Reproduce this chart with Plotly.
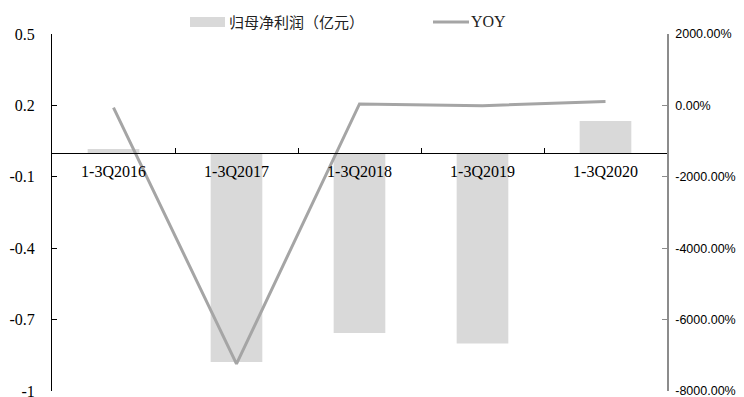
import plotly.graph_objects as go

categories = ["1-3Q2016", "1-3Q2017", "1-3Q2018", "1-3Q2019", "1-3Q2020"]
profit = [0.017, -0.878, -0.756, -0.80, 0.134]          # 归母净利润（亿元）
yoy = [-60, -7240, 40, -10, 110]                         # YOY in %
left_ticks = [0.5, 0.2, -0.1, -0.4, -0.7, -1]
left_ticktext = ["0.5", "0.2", "-0.1", "-0.4", "-0.7", "-1"]
right_ticks = [2000, 0, -2000, -4000, -6000, -8000]
right_ticktext = ["2000.00%", "0.00%", "-2000.00%", "-4000.00%", "-6000.00%", "-8000.00%"]
bar_name = "归母净利润（亿元）"
line_name = "YOY"

serif = "Liberation Serif, Times New Roman, serif"
sans = "Liberation Sans, Arial, sans-serif"
cjk = "Noto Sans CJK SC, sans-serif"

# page body has an 8px default margin; compensate
OFF = 8
W, H = 744 - OFF, 397 - OFF
ML, MT = 52 - OFF, 34 - OFF
PW, PH = 615, 357
MR, MB = W - ML - PW, H - MT - PH

BAR_COLOR = "#d9d9d9"
LINE_COLOR = "#a5a5a5"

fig = go.Figure()
fig.add_trace(go.Bar(
    x=categories, y=profit, name=bar_name,
    marker=dict(color=BAR_COLOR, line=dict(width=0)), width=0.42,
    yaxis="y", showlegend=False,
))
fig.add_trace(go.Scatter(
    x=categories, y=yoy, name=line_name, mode="lines",
    line=dict(color=LINE_COLOR, width=3), yaxis="y2", showlegend=False,
))

ymin, ymax = -1, 0.5
zero_frac = (0 - ymin) / (ymax - ymin)

def px_to_paper_x(px):
    return (px - OFF - ML) / PW

def px_to_paper_y(py):
    return (MT + PH - (py - OFF)) / PH

leg_y = px_to_paper_y(22)
shapes = [
    dict(type="rect", xref="paper", yref="paper",
         xsizemode="pixel", ysizemode="pixel",
         xanchor=px_to_paper_x(190), yanchor=leg_y,
         x0=0, x1=35, y0=-5, y1=5,
         fillcolor=BAR_COLOR, line=dict(width=0)),
    dict(type="line", xref="paper", yref="paper",
         xsizemode="pixel", ysizemode="pixel",
         xanchor=px_to_paper_x(433), yanchor=leg_y,
         x0=0, x1=36, y0=0, y1=0,
         line=dict(color=LINE_COLOR, width=3)),
]
annotations = [
    dict(text=bar_name, xref="paper", yref="paper", x=px_to_paper_x(227), y=leg_y,
         xanchor="left", yanchor="middle", showarrow=False,
         font=dict(family=cjk, size=15, color="#222")),
    dict(text=line_name, xref="paper", yref="paper", x=px_to_paper_x(469), y=leg_y,
         xanchor="left", yanchor="middle", showarrow=False,
         font=dict(family=serif, size=16, color="#222")),
]

fig.update_layout(
    width=W, height=H,
    margin=dict(l=ML, r=MR, t=MT, b=MB, autoexpand=False),
    plot_bgcolor="white", paper_bgcolor="white",
    showlegend=False,
    shapes=shapes, annotations=annotations,
    xaxis=dict(
        type="category", range=[-0.5, 4.5],
        anchor="free", position=zero_frac,
        showline=True, linecolor="black", linewidth=1,
        ticks="inside", ticklen=5, tickcolor="black", tickson="boundaries",
        showgrid=False, zeroline=False, ticklabelstandoff=4,
        tickfont=dict(family=serif, size=16, color="black"),
    ),
    yaxis=dict(
        range=[ymin, ymax], tickvals=left_ticks, ticktext=left_ticktext,
        showline=True, linecolor="black", linewidth=1,
        ticks="inside", ticklen=5, tickcolor="black",
        showgrid=False, zeroline=False, ticklabeloverflow="allow",
        ticklabelstandoff=13,
        tickfont=dict(family=serif, size=16, color="black"),
    ),
    yaxis2=dict(
        range=[-8000, 2000], tickvals=right_ticks, ticktext=right_ticktext,
        overlaying="y", side="right",
        showline=True, linecolor="#8c8c8c", linewidth=1.5,
        ticks="inside", ticklen=5, tickcolor="#8c8c8c",
        showgrid=False, zeroline=False, ticklabeloverflow="allow",
        ticklabelstandoff=4,
        tickfont=dict(family=sans, size=12.5, color="black"),
    ),
)

fig.write_html("out.html")
